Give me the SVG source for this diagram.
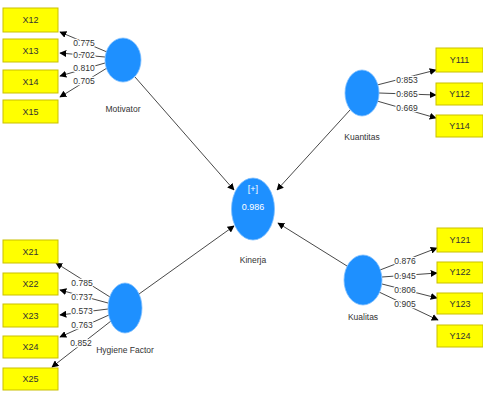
<svg xmlns="http://www.w3.org/2000/svg" width="483" height="394" viewBox="0 0 483 394">
<defs>
<marker id="ah" viewBox="0 0 10 10" refX="9" refY="5" markerWidth="7" markerHeight="7" markerUnits="userSpaceOnUse" orient="auto">
<path d="M0,0 L10,5 L0,10 z" fill="#000"/>
</marker>
<style>
.box{fill:#ffff00;stroke:#c9c000;stroke-width:1}
.lv{fill:#1e90ff;stroke:#7fbfff;stroke-width:0.8}
.bt{font-family:"Liberation Sans",Arial,sans-serif;font-size:9px;fill:#333;text-anchor:middle}
.lt{font-family:"Liberation Sans",Arial,sans-serif;font-size:8.5px;fill:#333;text-anchor:middle}
.wt{font-family:"Liberation Sans",Arial,sans-serif;font-size:9px;fill:#fff;text-anchor:middle}
.c{stroke:#333;stroke-width:0.9;fill:none;marker-end:url(#ah)}
.w{font-family:"Liberation Sans",Arial,sans-serif;font-size:8.5px;fill:#333;text-anchor:middle;stroke:#fff;stroke-width:2.5;paint-order:stroke}
</style>
</defs>
<rect width="483" height="394" fill="#fff"/>
<g id="connectors">
<line class="c" x1="107" y1="52" x2="60" y2="32"/>
<line class="c" x1="105" y1="57" x2="60" y2="53"/>
<line class="c" x1="105" y1="63" x2="60" y2="76"/>
<line class="c" x1="107" y1="68" x2="60" y2="97"/>
<line class="c" x1="110" y1="297" x2="56" y2="263"/>
<line class="c" x1="108" y1="303" x2="60" y2="290"/>
<line class="c" x1="108" y1="309" x2="60" y2="315"/>
<line class="c" x1="109" y1="315" x2="60" y2="337"/>
<line class="c" x1="111" y1="321" x2="52" y2="367"/>
<line class="c" x1="377" y1="85" x2="436" y2="70"/>
<line class="c" x1="379" y1="93" x2="436" y2="95"/>
<line class="c" x1="377" y1="101" x2="436" y2="118"/>
<line class="c" x1="380" y1="270" x2="437" y2="248"/>
<line class="c" x1="382" y1="277" x2="437" y2="273"/>
<line class="c" x1="382" y1="284" x2="437" y2="298"/>
<line class="c" x1="379" y1="292" x2="438" y2="320"/>
<line class="c" x1="135" y1="77" x2="234" y2="190"/>
<line class="c" x1="350" y1="110" x2="277" y2="190"/>
<line class="c" x1="139" y1="294" x2="234" y2="226"/>
<line class="c" x1="347" y1="266" x2="278" y2="223"/>
<text class="w" x="84" y="46">0.775</text>
<text class="w" x="84" y="58">0.702</text>
<text class="w" x="84" y="71">0.810</text>
<text class="w" x="84" y="84">0.705</text>
<text class="w" x="82" y="286">0.785</text>
<text class="w" x="82" y="300">0.737</text>
<text class="w" x="82" y="314">0.573</text>
<text class="w" x="82" y="328">0.763</text>
<text class="w" x="81" y="346">0.852</text>
<text class="w" x="407" y="83">0.853</text>
<text class="w" x="407" y="97">0.865</text>
<text class="w" x="407" y="111">0.669</text>
<text class="w" x="405" y="264">0.876</text>
<text class="w" x="405" y="279">0.945</text>
<text class="w" x="405" y="293">0.806</text>
<text class="w" x="405" y="307">0.905</text>
</g>
<g id="X12"><rect class="box" x="3" y="8" width="55" height="24"/><text class="bt" x="30.5" y="23">X12</text></g>
<g id="X13"><rect class="box" x="3" y="39" width="55" height="23"/><text class="bt" x="30.5" y="54">X13</text></g>
<g id="X14"><rect class="box" x="3" y="70" width="55" height="23"/><text class="bt" x="30.5" y="85">X14</text></g>
<g id="X15"><rect class="box" x="3" y="100" width="55" height="23"/><text class="bt" x="30.5" y="115">X15</text></g>
<g id="X21"><rect class="box" x="3" y="240" width="55" height="23"/><text class="bt" x="30.5" y="255">X21</text></g>
<g id="X22"><rect class="box" x="3" y="273" width="55" height="22"/><text class="bt" x="30.5" y="287">X22</text></g>
<g id="X23"><rect class="box" x="3" y="304" width="55" height="23"/><text class="bt" x="30.5" y="319">X23</text></g>
<g id="X24"><rect class="box" x="3" y="336" width="55" height="22"/><text class="bt" x="30.5" y="350">X24</text></g>
<g id="X25"><rect class="box" x="3" y="368" width="55" height="22"/><text class="bt" x="30.5" y="382">X25</text></g>
<g id="Y111"><rect class="box" x="436" y="48" width="47" height="24"/><text class="bt" x="459.5" y="63">Y111</text></g>
<g id="Y112"><rect class="box" x="436" y="83" width="47" height="22"/><text class="bt" x="459.5" y="97">Y112</text></g>
<g id="Y114"><rect class="box" x="436" y="115" width="47" height="22"/><text class="bt" x="459.5" y="129">Y114</text></g>
<g id="Y121"><rect class="box" x="437" y="228" width="46" height="24"/><text class="bt" x="460" y="243">Y121</text></g>
<g id="Y122"><rect class="box" x="437" y="262" width="46" height="21"/><text class="bt" x="460" y="275">Y122</text></g>
<g id="Y123"><rect class="box" x="437" y="293" width="46" height="21"/><text class="bt" x="460" y="307">Y123</text></g>
<g id="Y124"><rect class="box" x="437" y="325" width="46" height="22"/><text class="bt" x="460" y="339">Y124</text></g>
<g id="Motivator"><ellipse class="lv" cx="123" cy="60" rx="18" ry="22"/><text class="lt" x="123" y="112">Motivator</text></g>
<g id="HygieneFactor"><ellipse class="lv" cx="125" cy="308" rx="17" ry="25"/><text class="lt" x="125" y="353">Hygiene Factor</text></g>
<g id="Kuantitas"><ellipse class="lv" cx="362" cy="93" rx="17" ry="23"/><text class="lt" x="362" y="140">Kuantitas</text></g>
<g id="Kualitas"><ellipse class="lv" cx="363" cy="280" rx="19" ry="25"/><text class="lt" x="363" y="320">Kualitas</text></g>
<g id="Kinerja"><ellipse class="lv" cx="253" cy="209" rx="21.5" ry="31"/><text class="wt" x="253" y="192">[+]</text><text class="wt" x="253" y="210">0.986</text><text class="lt" x="253" y="263">Kinerja</text></g>
</svg>
